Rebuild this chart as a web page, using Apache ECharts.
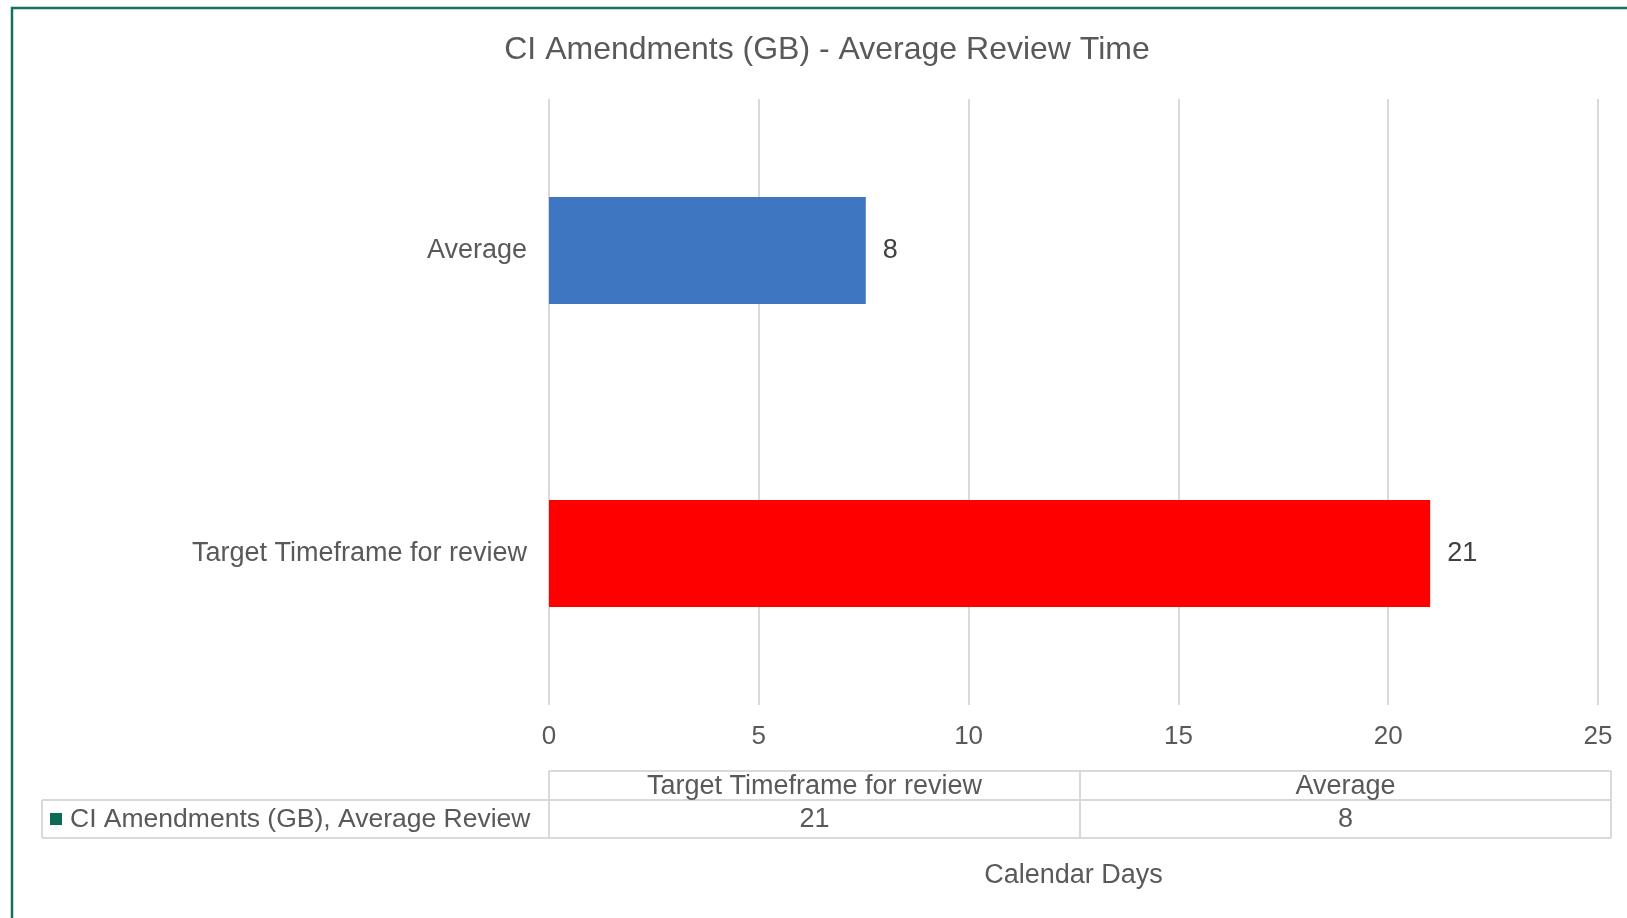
<!DOCTYPE html>
<html>
<head>
<meta charset="utf-8">
<script src="https://cdn.jsdelivr.net/npm/echarts@6/dist/echarts.min.js"></script>
<style>
  html, body { margin: 0; padding: 0; background: #fff; }
  #main { width: 1627px; height: 918px; }
</style>
</head>
<body>
<div id="main"></div>
<script>
  // data
  var categories = ['Target Timeframe for review', 'Average'];
  var values = [21, 7.55];
  var barColors = ['#ff0000', '#3f76c1'];
  var seriesName = 'CI Amendments (GB), Average Review';
  var titleText = 'CI Amendments (GB) - Average Review Time';
  var axisName = 'Calendar Days';

  var textColor = '#595959';
  var lineColor = '#d9d9d9';
  var font = 'Liberation Sans, Arial, sans-serif';

  // data table under the chart (pixel layout)
  var tLeft = 549, tRight = 1611, tRowLeft = 42;
  var tTop = 771, tMid = 800, tBottom = 838;
  var colW = (tRight - tLeft) / categories.length;

  var graphics = [];
  function hline(x1, x2, y) {
    graphics.push({ type: 'line', shape: { x1: x1, y1: y, x2: x2, y2: y }, style: { stroke: lineColor, lineWidth: 2 } });
  }
  function vline(x, y1, y2) {
    graphics.push({ type: 'line', shape: { x1: x, y1: y1, x2: x, y2: y2 }, style: { stroke: lineColor, lineWidth: 2 } });
  }
  hline(tLeft, tRight, tTop);
  hline(tRowLeft, tRight, tMid);
  hline(tRowLeft, tRight, tBottom);
  vline(tRowLeft, tMid, tBottom);
  for (var c = 0; c <= categories.length; c++) {
    vline(tLeft + c * colW, tTop, tBottom);
  }
  categories.forEach(function (cat, i) {
    var cx = tLeft + colW * (i + 0.5);
    graphics.push({ type: 'text', x: cx, y: (tTop + tMid) / 2 + 1,
      style: { text: cat, fill: textColor, font: '27px ' + font, align: 'center', verticalAlign: 'middle' } });
    graphics.push({ type: 'text', x: cx, y: (tMid + tBottom) / 2 + 1,
      style: { text: String(Math.round(values[i])), fill: textColor, font: '27px ' + font, align: 'center', verticalAlign: 'middle' } });
  });
  // legend key + series name
  graphics.push({ type: 'rect', shape: { x: 50, y: 813, width: 12, height: 12 }, style: { fill: '#0c6b55' } });
  graphics.push({ type: 'text', x: 70, y: (tMid + tBottom) / 2 + 1,
    style: { text: seriesName, fill: textColor, font: '26.5px ' + font, align: 'left', verticalAlign: 'middle' } });
  // outer frame
  graphics.push({ type: 'rect', shape: { x: 12, y: 8, width: 1660, height: 960 }, style: { fill: 'none', stroke: '#16705d', lineWidth: 2.5 } });

  var option = {
    backgroundColor: '#fff',
    textStyle: { fontFamily: font },
    title: {
      text: titleText,
      left: 822,
      top: 29,
      textAlign: 'center',
      textStyle: { color: textColor, fontSize: 32, fontWeight: 'normal', fontFamily: font }
    },
    grid: { left: 549, right: 29, top: 99, bottom: 213, containLabel: false },
    xAxis: {
      type: 'value',
      min: 0, max: 25, interval: 5,
      name: axisName,
      nameLocation: 'middle',
      nameGap: 157,
      nameTextStyle: { color: textColor, fontSize: 27, fontFamily: font },
      axisLine: { show: false },
      axisTick: { show: false },
      axisLabel: { color: textColor, fontSize: 26, margin: 19, fontFamily: font },
      splitLine: { show: true, lineStyle: { color: lineColor, width: 2 } }
    },
    yAxis: {
      type: 'category',
      data: categories,
      axisLine: { show: false },
      axisTick: { show: false },
      axisLabel: { color: textColor, fontSize: 27, margin: 22, fontFamily: font }
    },
    series: [{
      name: seriesName,
      type: 'bar',
      barWidth: 107,
      data: values.map(function (v, i) {
        return { value: v, itemStyle: { color: barColors[i] } };
      }),
      label: {
        show: true,
        position: 'right',
        distance: 17,
        color: '#404040',
        fontSize: 27,
        fontFamily: font,
        formatter: function (p) { return Math.round(p.value); }
      }
    }],
    graphic: graphics
  };

  var chart = echarts.init(document.getElementById('main'));
  chart.setOption(option);
</script>
</body>
</html>
